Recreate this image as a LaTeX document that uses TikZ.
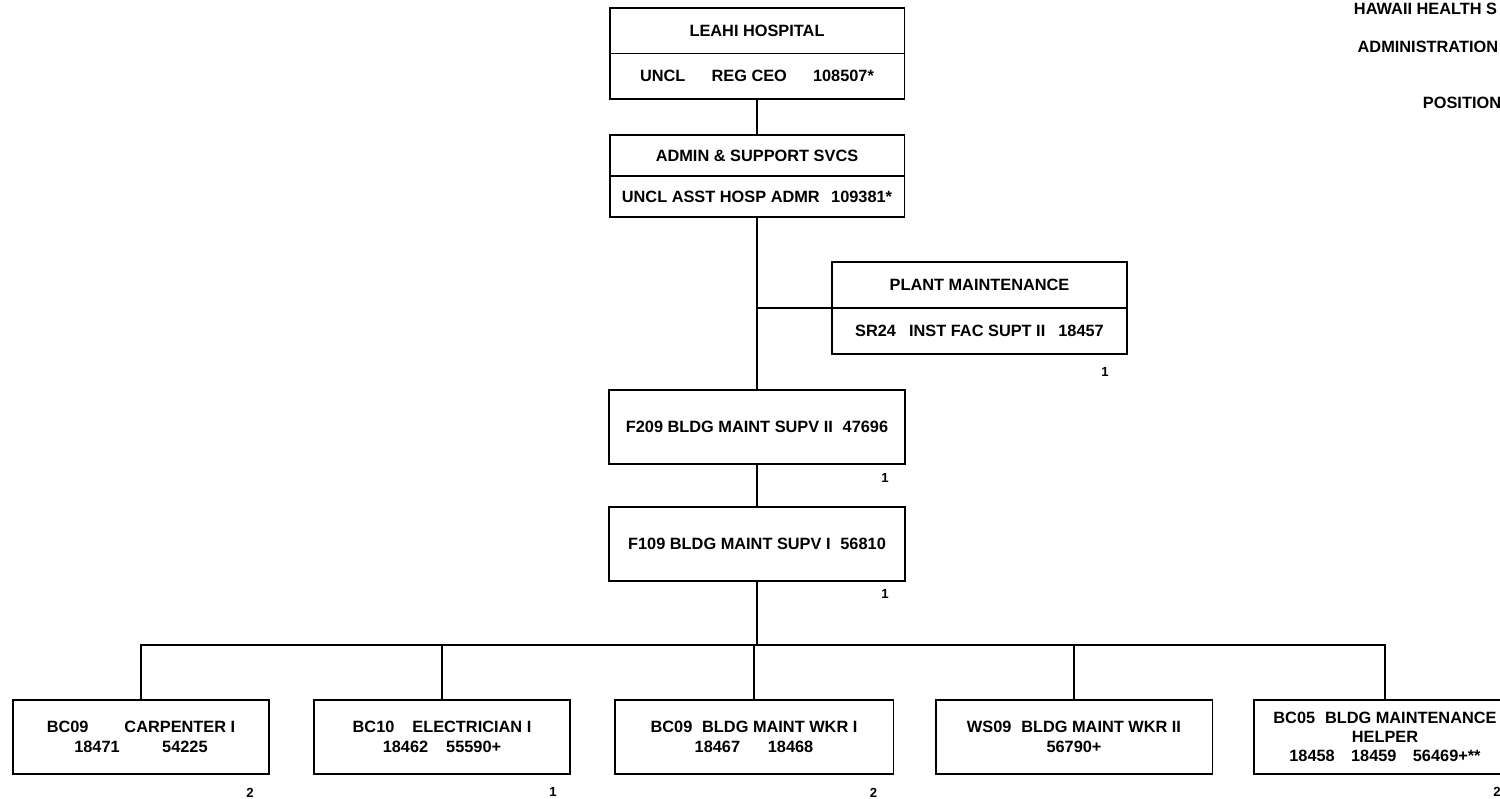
\documentclass[tikz,border=0pt]{standalone}
\usepackage{fontspec}
\setmainfont{Liberation Sans}
\usepackage{tikz}
\usetikzlibrary{positioning, calc}

\begin{document}
\begin{tikzpicture}[
    x=0.02cm, y=-0.02cm,
    line width=1.1pt,
    txt/.style={font=\fontsize{9.3}{11}\selectfont\bfseries},
    halfbox/.style={rectangle, draw, txt, outer sep=0pt, inner sep=0pt, minimum width=5.9cm, align=center},
    posbox/.style={rectangle, draw, txt, outer sep=0pt, inner sep=0pt, minimum width=5.92cm, minimum height=1.48cm, align=center},
    staffbox/.style={rectangle, draw, txt, outer sep=0pt, inner sep=0pt, minimum height=1.48cm, align=center},
    count/.style={txt, font=\fontsize{7.5}{9}\selectfont\bfseries, inner sep=0pt},
    head/.style={txt, anchor=west, inner sep=0pt},
]
\clip (0,0) rectangle (1500,798);

% heading (runs to the right edge)
\node[head] (hhsc) at (1353,9) {HAWAII HEALTH S};
\node[head, anchor=east] (hadmin) at (1499,47) {ADMINISTRATION};
\node[head] (hpos) at (1422,103) {POSITION};

% top of the chain
\node[halfbox, minimum height=0.91cm] (leahi) at (757,30.75) {LEAHI HOSPITAL};
\node[halfbox, minimum height=0.91cm, below=0pt of leahi] (leahipos) {UNCL\hspace{1.6em}REG CEO\hspace{1.6em}108507*};

\node[halfbox, minimum height=0.82cm] (admin) at (757,155.5) {ADMIN \& SUPPORT SVCS};
\node[halfbox, minimum height=0.82cm, below=0pt of admin] (adminpos) {UNCL ASST HOSP ADMR\hspace{0.7em}109381*};

\node[halfbox, minimum height=0.92cm] (plant) at (979.5,285) {PLANT MAINTENANCE};
\node[halfbox, minimum height=0.92cm, below=0pt of plant] (plantpos) {SR24\hspace{0.8em}INST FAC SUPT II\hspace{0.8em}18457};

\node[posbox] (supv2) at (757,427) {F209 BLDG MAINT SUPV II\hspace{0.6em}47696};
\node[posbox] (supv1) at (757,544) {F109 BLDG MAINT SUPV I\hspace{0.6em}56810};

% staff row
\node[staffbox, minimum width=5.12cm] (carp) at (141,737) {BC09\hspace{2.2em}CARPENTER I\\18471\hspace{2.6em}54225};
\node[staffbox, minimum width=5.12cm] (elec) at (442,737) {BC10\hspace{1.1em}ELECTRICIAN I\\18462\hspace{1.1em}55590+};
\node[staffbox, minimum width=5.58cm] (wkr1) at (754,737) {BC09\hspace{0.6em}BLDG MAINT WKR I\\18467\hspace{1.7em}18468};
\node[staffbox, minimum width=5.54cm] (wkr2) at (1074,737) {WS09\hspace{0.6em}BLDG MAINT WKR II\\56790+};
\node[staffbox, minimum width=5.24cm] (helper) at (1385,737) {BC05\hspace{0.6em}BLDG MAINTENANCE\\HELPER\\18458\hspace{1em}18459\hspace{1em}56469+**};

% counts
\node[count] (nplant) at ($(plantpos.south east)+(-22,18)$) {1};
\node[count] (nsupv2) at ($(supv2.south east)+(-20,14)$) {1};
\node[count] (nsupv1) at ($(supv1.south east)+(-20,13)$) {1};
\node[count] (ncarp) at ($(carp.south east)+(-19,19)$) {2};
\node[count] (nelec) at ($(elec.south east)+(-17,18)$) {1};
\node[count] (nwkr1) at ($(wkr1.south east)+(-20,19)$) {2};
\node[count] (nhelper) at ($(helper.south east)+(-19,18)$) {2};

\coordinate (bus) at (0,645);

\draw (leahipos) -- (admin);
\draw (adminpos) -- (supv2);
\draw (plant.south west) -- (plant.south west -| adminpos.south);
\draw (supv2) -- (supv1);
\draw (supv1.south) -- (supv1.south |- bus);
\draw (carp.north) -- (carp.north |- bus) -- (helper.north |- bus) -- (helper.north);
\foreach \b in {elec, wkr1, wkr2}
    \draw (\b.north) -- (\b.north |- bus);

\end{tikzpicture}
\end{document}
